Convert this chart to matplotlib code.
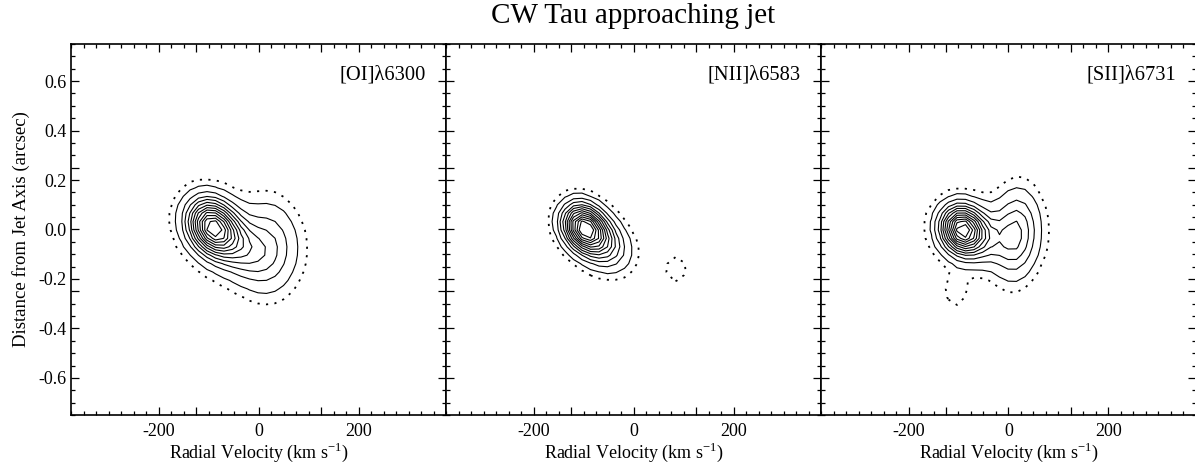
import numpy as np
import matplotlib
matplotlib.use("Agg")
import matplotlib.pyplot as plt
from matplotlib.ticker import FixedLocator, MultipleLocator, FixedFormatter

plt.rcParams['font.family'] = ['Liberation Serif', 'DejaVu Serif']
plt.rcParams['axes.unicode_minus'] = False
plt.rcParams['mathtext.fontset'] = 'custom'
plt.rcParams['mathtext.rm'] = 'Liberation Serif'

# ---- data: emission components (peak-normalised) ----
line_labels = ["[OI]λ6300", "[NII]λ6583", "[SII]λ6731"]

OI_amp = [1.00, 0.45, 0.26, 0.07]
OI_x0 = [-95, -55, 22, -40]
OI_y0 = [0.01, -0.04, -0.07, -0.05]
OI_sx = [30, 40, 35, 85]
OI_sy = [0.07, 0.09, 0.11, 0.14]
OI_rho = [-0.2, -0.45, 0.0, -0.2]

NII_amp = [1.00, 0.45, 0.075]
NII_x0 = [-100, -65, 85]
NII_y0 = [0.01, -0.05, -0.16]
NII_sx = [27, 34, 18]
NII_sy = [0.06, 0.07, 0.045]
NII_rho = [-0.2, -0.3, 0.0]

SII_amp = [1.00, 0.42, 0.40, 0.06, 0.085]
SII_x0 = [-95, -68, 15, -40, -105]
SII_y0 = [0.00, -0.02, -0.02, -0.02, -0.25]
SII_sx = [26, 35, 28, 80, 17]
SII_sy = [0.06, 0.07, 0.11, 0.11, 0.05]
SII_rho = [-0.1, -0.2, 0.1, 0.0, 0.0]

dotted_level = [0.035]
solid_levels = [0.075, 0.15, 0.225, 0.30, 0.375, 0.45, 0.525, 0.60, 0.675, 0.75, 0.825, 0.90]

vel_grid = np.arange(-375, 375.1, 17)
pos_grid = np.arange(-0.75, 0.7501, 0.034)

x_major = [-200, -125, 0, 125, 200]
x_labels = ["-200", "", "0", "", "200"]
y_major = [-0.6, -0.4, -0.25, -0.2, 0.0, 0.2, 0.25, 0.4, 0.6]
y_labels = ["-0.6", "-0.4", "", "-0.2", "0.0", "0.2", "", "0.4", "0.6"]

components = [
    (OI_amp, OI_x0, OI_y0, OI_sx, OI_sy, OI_rho),
    (NII_amp, NII_x0, NII_y0, NII_sx, NII_sy, NII_rho),
    (SII_amp, SII_x0, SII_y0, SII_sx, SII_sy, SII_rho),
]


def field(comp):
    X, Y = np.meshgrid(vel_grid, pos_grid)
    Z = np.zeros_like(X)
    for a, x0, y0, sx, sy, r in zip(*comp):
        u = (X - x0) / sx
        v = (Y - y0) / sy
        q = (u * u - 2 * r * u * v + v * v) / (1 - r * r)
        Z += a * np.exp(-0.5 * q)
    return X, Y, Z / Z.max()


fig = plt.figure(figsize=(11.95, 4.69), dpi=100)
W, H = 1195, 469
left0, width = 71, 375
top, bottom = 44, 415

for i in range(3):
    ax = fig.add_axes([(left0 + i * width) / W, 1 - bottom / H, width / W, (bottom - top) / H])
    X, Y, Z = field(components[i])
    ax.contour(X, Y, Z, levels=dotted_level, colors='black', linewidths=1.3,
               linestyles=[(0, (1.2, 3.5))])
    ax.contour(X, Y, Z, levels=solid_levels, colors='black', linewidths=0.8,
               linestyles='solid')
    ax.set_xlim(-375, 375)
    ax.set_ylim(-0.75, 0.75)
    ax.xaxis.set_major_locator(FixedLocator(x_major))
    ax.xaxis.set_major_formatter(FixedFormatter(x_labels))
    ax.xaxis.set_minor_locator(MultipleLocator(25))
    ax.yaxis.set_major_locator(FixedLocator(y_major))
    ax.yaxis.set_minor_locator(MultipleLocator(0.05))
    if i == 0:
        ax.yaxis.set_major_formatter(FixedFormatter(y_labels))
        ax.set_ylabel("Distance from Jet Axis (arcsec)", fontsize=13.5, labelpad=6)
    else:
        ax.yaxis.set_major_formatter(FixedFormatter([""] * len(y_major)))
    ax.tick_params(which='both', direction='in', top=True, right=True,
                   labelsize=13, width=0.9)
    ax.tick_params(which='major', length=6)
    ax.tick_params(which='minor', length=3)
    ax.tick_params(axis='x', pad=6)
    for s in ax.spines.values():
        s.set_linewidth(1.2)
    ax.set_xlabel("Radial Velocity (km s$^{-1}$)", fontsize=13, labelpad=0)
    ax.text(0.947, 0.916, line_labels[i], transform=ax.transAxes,
            ha='right', va='center', fontsize=14.8)

fig.text((left0 + 1.5 * width) / W, 1 - 16 / H, "CW Tau approaching jet",
         ha='center', va='center', fontsize=21)

fig.savefig("out.png", dpi=100)
